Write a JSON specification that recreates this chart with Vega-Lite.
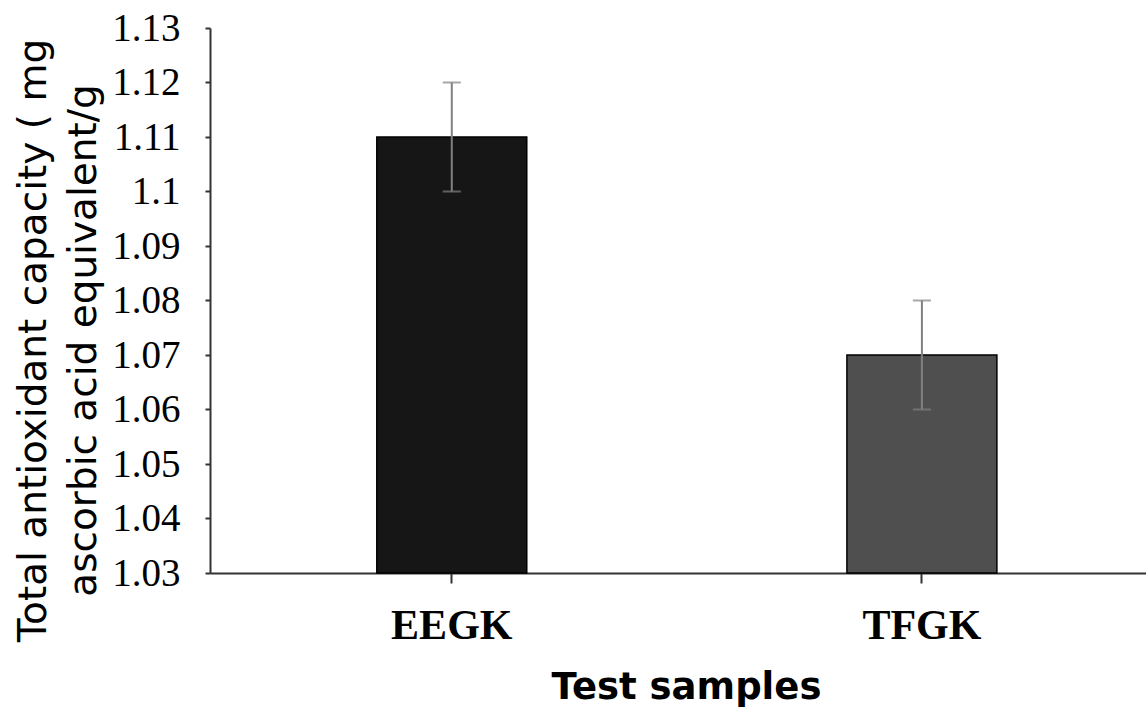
{
  "$schema": "https://vega.github.io/schema/vega-lite/v6.json",
  "width": 936,
  "height": 545,
  "autosize": "none",
  "padding": {"left": 210, "top": 28, "right": 0, "bottom": 137},
  "background": "white",
  "config": {"view": {"stroke": null}},
  "data": {"values": [
    {"sample": "EEGK", "value": 1.11, "lo": 1.10, "hi": 1.12},
    {"sample": "TFGK", "value": 1.07, "lo": 1.06, "hi": 1.08}
  ]},
  "encoding": {
    "x": {
      "field": "sample", "type": "nominal", "sort": null,
      "scale": {"paddingInner": 0.681, "paddingOuter": 0.336, "align": 0.528},
      "axis": {
        "title": "Test samples",
        "labelAngle": 0,
        "labelFont": "Liberation Serif", "labelFontWeight": "bold", "labelFontSize": 42, "labelColor": "black",
        "labelBaseline": "alphabetic", "labelPadding": 55,
        "tickSize": 10, "tickColor": "#333", "tickWidth": 2,
        "domainColor": "#333", "domainWidth": 2,
        "titleFont": "DejaVu Sans", "titleFontWeight": "bold", "titleFontSize": 37, "titleColor": "black",
        "titleX": 476, "titleY": 125, "titleBaseline": "alphabetic", "titleAlign": "center"
      }
    }
  },
  "layer": [
    {
      "mark": {"type": "bar", "stroke": "black", "strokeWidth": 1.5},
      "encoding": {
        "y": {
          "field": "value", "type": "quantitative",
          "scale": {"domain": [1.03, 1.13], "nice": false, "zero": false},
          "axis": {
            "title": ["Total antioxidant capacity ( mg", "ascorbic acid equivalent/g"],
            "values": [1.03, 1.04, 1.05, 1.06, 1.07, 1.08, 1.09, 1.1, 1.11, 1.12, 1.13],
            "format": "~g",
            "grid": false,
            "labelFont": "Liberation Serif", "labelFontSize": 39, "labelColor": "black",
            "labelPadding": 25, "labelBaseline": "middle",
            "tickSize": 5, "tickColor": "#333", "tickWidth": 2,
            "domainColor": "#333", "domainWidth": 2,
            "titleFont": "DejaVu Sans", "titleFontWeight": "normal", "titleFontSize": 39, "titleColor": "black",
            "titleLineHeight": 50, "titleAngle": -90, "titleAlign": "center", "titleBaseline": "middle",
            "titleX": -177, "titleY": 312
          }
        },
        "y2": {"datum": 1.03},
        "fill": {
          "field": "sample", "type": "nominal", "legend": null,
          "scale": {"domain": ["EEGK", "TFGK"], "range": ["#161616", "#4f4f4f"]}
        }
      }
    },
    {
      "mark": {"type": "rule", "color": "#808080", "strokeWidth": 2},
      "encoding": {
        "y": {"field": "lo", "type": "quantitative"},
        "y2": {"field": "hi"}
      }
    },
    {
      "mark": {"type": "tick", "orient": "horizontal", "color": "#808080", "size": 18, "thickness": 2},
      "encoding": {"y": {"field": "hi", "type": "quantitative"}}
    },
    {
      "mark": {"type": "tick", "orient": "horizontal", "color": "#808080", "size": 18, "thickness": 2},
      "encoding": {"y": {"field": "lo", "type": "quantitative"}}
    }
  ]
}
